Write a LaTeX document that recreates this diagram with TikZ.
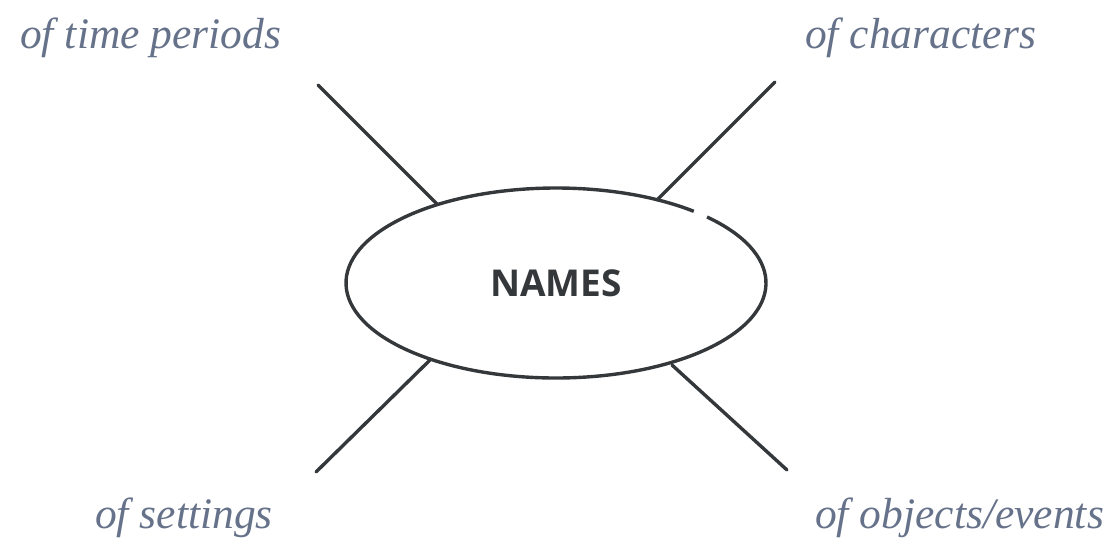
\documentclass[tikz,border=0pt]{standalone}
\usepackage{fontspec}
\usetikzlibrary{shapes.geometric}
\setmainfont{Liberation Serif}
\newfontfamily\namesfont{Open Sans}
\definecolor{ink}{HTML}{35383B}
\definecolor{labelgray}{HTML}{66728A}
\begin{document}
\begin{tikzpicture}[x=1pt,y=-1pt,
  spoke/.style={draw=ink,line width=3.4pt,line cap=round},
  branchlabel/.style={text=labelgray,font=\fontsize{43.5}{50}\selectfont\itshape,inner sep=0pt,anchor=base west}]
\useasboundingbox (0,0) rectangle (1118,547);
\node[draw=none,minimum width=420pt,minimum height=190pt,ellipse,inner sep=0pt] (names) at (556,283) {};
\node[text=ink,font=\namesfont\bfseries\fontsize{37}{44}\selectfont] (lbl) at (names.center) {NAMES};
\draw[ink,line width=3.4pt] (names.center) ++(49:210pt and 95pt) arc[start angle=49,end angle=404,x radius=210pt,y radius=95pt];
\coordinate (tl1) at (318,85);  \coordinate (tl2) at (437,204);
\coordinate (tr1) at (775,82);  \coordinate (tr2) at (657,200);
\coordinate (bl1) at (316,472); \coordinate (bl2) at (430,360);
\coordinate (br1) at (787,470); \coordinate (br2) at (672,365);
\draw[spoke] (tl1) -- (tl2);
\draw[spoke] (tr1) -- (tr2);
\draw[spoke] (bl1) -- (bl2);
\draw[spoke] (br1) -- (br2);
\node[branchlabel] (ltp) at (20,48) {of time periods};
\node[branchlabel] (lch) at (805,48) {of characters};
\node[branchlabel] (lse) at (95,528) {of settings};
\node[branchlabel] (lob) at (815,528) {of objects/events};
\end{tikzpicture}
\end{document}
